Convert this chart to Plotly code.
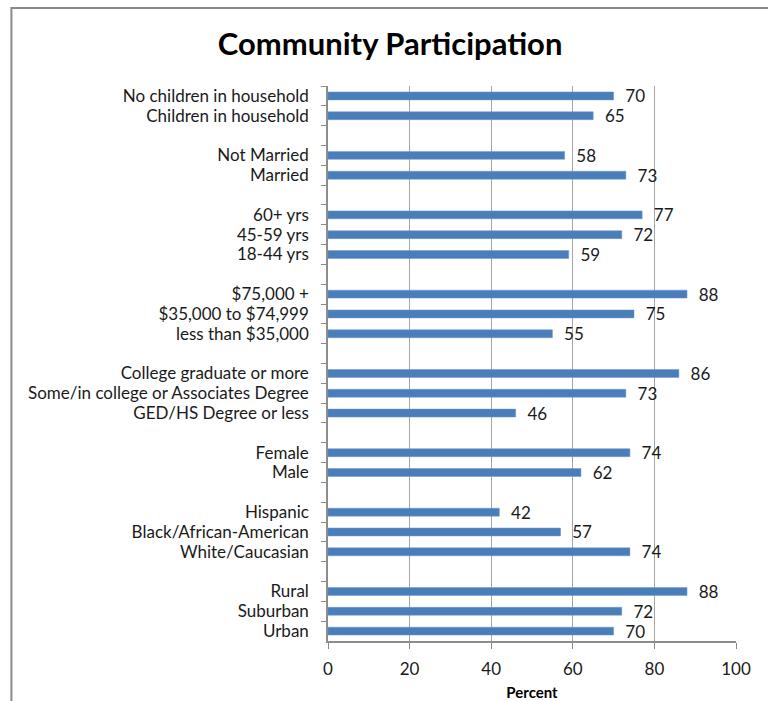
import plotly.graph_objects as go

# Rows listed top to bottom; empty strings separate the demographic groups
categories = [
    "No children in household", "Children in household", "",
    "Not Married", "Married", "",
    "60+ yrs", "45-59 yrs", "18-44 yrs", "",
    "$75,000 +", "$35,000 to $74,999", "less than $35,000", "",
    "College graduate or more", "Some/in college or Associates Degree",
    "GED/HS Degree or less", "",
    "Female", "Male", "",
    "Hispanic", "Black/African-American", "White/Caucasian", "",
    "Rural", "Suburban", "Urban",
]
values = [
    70, 65, None,
    58, 73, None,
    77, 72, 59, None,
    88, 75, 55, None,
    86, 73, 46, None,
    74, 62, None,
    42, 57, 74, None,
    88, 72, 70,
]
x_ticks = [0, 20, 40, 60, 80, 100]

# Blank separator rows need unique keys so each keeps its own slot
keys = []
blank = 0
for c in categories:
    if c == "":
        blank += 1
        keys.append("\u200b" * blank)
    else:
        keys.append(c)

FONT = "Lato, Calibri, Carlito, sans-serif"
GREY = "#8c8c8c"

labels = ["" if v is None else "\u00a0\u00a0" + str(v) for v in values]

fig = go.Figure(
    go.Bar(
        x=values,
        y=keys,
        orientation="h",
        marker=dict(color="#4a7ebb", line=dict(color="#6d97c9", width=0.5)),
        text=labels,
        textposition="outside",
        constraintext="none",
        textfont=dict(family=FONT, size=17, color="#1a1a1a"),
        cliponaxis=False,
        hoverinfo="skip",
    )
)

fig.update_layout(
    width=768,
    height=701,
    margin=dict(l=328, r=32, t=86, b=60),
    paper_bgcolor="white",
    plot_bgcolor="white",
    showlegend=False,
    bargap=0.6,
    title=dict(
        text="<b>Community Participation</b>",
        x=0.508,
        xanchor="center",
        y=0.937,
        yanchor="middle",
        font=dict(family=FONT, size=31, color="black"),
    ),
    xaxis=dict(
        range=[0, 100],
        tickvals=x_ticks,
        ticktext=[str(t) for t in x_ticks],
        automargin=False,
        showgrid=True,
        gridcolor="#a6a6a6",
        gridwidth=1,
        showline=True,
        linecolor=GREY,
        linewidth=1.5,
        ticks="outside",
        ticklen=6,
        tickcolor=GREY,
        ticklabelstandoff=6,
        tickfont=dict(family=FONT, size=17, color="#1a1a1a"),
        zeroline=False,
        title=dict(
            text="<b>Percent</b>",
            font=dict(family=FONT, size=15, color="black"),
            standoff=12,
        ),
    ),
    yaxis=dict(
        type="category",
        categoryorder="array",
        categoryarray=keys,
        autorange="reversed",
        tickmode="linear",
        tick0=0,
        dtick=1,
        automargin=False,
        tickson="boundaries",
        ticks="outside",
        ticklen=5,
        tickcolor=GREY,
        showgrid=False,
        showline=True,
        linecolor=GREY,
        linewidth=1.5,
        ticklabelstandoff=14,
        tickfont=dict(family=FONT, size=17, color="#1a1a1a"),
    ),
    shapes=[
        # chart frame, running past the right and bottom page edges
        dict(
            type="rect",
            xref="paper",
            yref="paper",
            x0=-0.776,
            x1=1.10,
            y0=-0.12,
            y1=1.1405,
            line=dict(color="#8a8a8a", width=2),
            fillcolor="rgba(0,0,0,0)",
            layer="below",
        )
    ],
)

fig.write_html("out.html")
